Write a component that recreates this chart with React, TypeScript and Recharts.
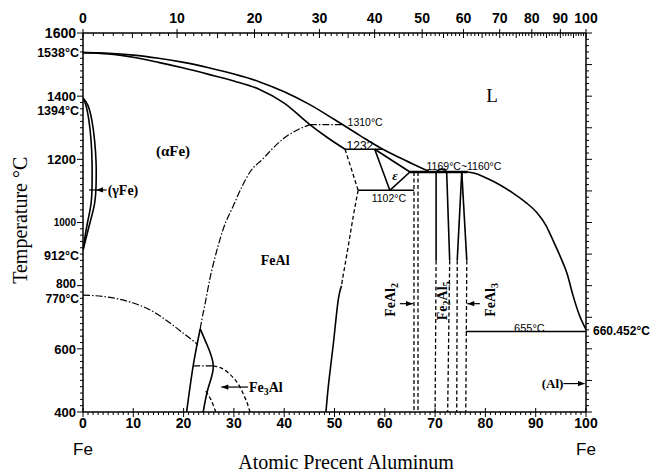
import React from 'react';
import { LineChart, Line, XAxis, YAxis, ReferenceLine, ReferenceDot } from 'recharts';

type Pt = [number, number];

// phase boundaries, [at.% Al, °C]
const liquidusFeSide: Pt[] = [[0, 1538], [5, 1536], [10, 1530], [15, 1520], [20, 1507], [25, 1490], [30, 1470], [35, 1446], [40, 1414], [45, 1374], [50, 1326], [55, 1276], [59.6, 1232], [63, 1205], [66, 1182], [68.8, 1162]];
const solidusAlpha: Pt[] = [[0, 1538], [5, 1534], [10, 1523], [15, 1507], [20, 1489], [25, 1469], [30, 1448], [35, 1422], [40, 1378], [45.1, 1310], [48.5, 1270], [52.1, 1232]];
const liquidusAlSide: Pt[] = [[76.5, 1160], [78.5, 1153], [80.3, 1140], [83, 1118], [85.5, 1093], [88, 1064], [90.3, 1030], [92, 992], [93.4, 945], [95, 888], [96.2, 840], [97.4, 770], [98.6, 710], [100, 660.452]];
const gammaOuter: Pt[] = [[0, 1394], [1.0, 1370], [1.8, 1320], [2.3, 1260], [2.6, 1190], [2.6, 1120], [2.3, 1060], [1.4, 1000], [0.6, 950], [0, 912]];
const gammaInner: Pt[] = [[0, 1394], [0.6, 1370], [1.2, 1320], [1.6, 1260], [1.8, 1190], [1.8, 1120], [1.6, 1060], [0.9, 1000], [0.35, 950], [0, 912]];
const orderA2B2: Pt[] = [[23.3, 663], [23.6, 690], [24.3, 745], [25.2, 820], [26.6, 911], [28.0, 985], [29.8, 1050], [31.5, 1110], [33.2, 1160], [35.8, 1202], [37.8, 1236], [39.8, 1265], [42.5, 1292], [45.1, 1310]];
const curieLine: Pt[] = [[0, 770], [5, 764], [10, 745], [13.5, 722], [16.6, 690], [19.5, 655], [22.8, 614]];
const line1310: Pt[] = [[45.1, 1310], [51.8, 1310]];
const peritectic1232: Pt[] = [[52.1, 1232], [59.6, 1232]];
const b2EdgeTop: Pt[] = [[52.1, 1232], [54.7, 1102]];
const b2AlEdgeDashed: Pt[] = [[54.7, 1102], [53.7, 1017], [52.7, 922], [51.7, 830], [51.4, 800]];
const b2AlEdgeSolid: Pt[] = [[51.4, 800], [50.7, 750], [49.8, 620], [48.9, 500], [48.3, 400]];
const eutectoid1102: Pt[] = [[54.7, 1102], [65.8, 1102]];
const epsLeft: Pt[] = [[58, 1232], [61, 1102]];
const epsTop: Pt[] = [[58, 1232], [65, 1160]];
const epsRight: Pt[] = [[65, 1160], [61, 1102]];
const reaction1160: Pt[] = [[65, 1160], [76.5, 1160]];
const fe2al5Dome: Pt[] = [[70.2, 1160], [70.8, 1167], [71.3, 1169], [71.9, 1166], [72.3, 1160]];
const feal2Left: Pt[] = [[65.8, 1160], [65.8, 400]];
const feal2Right: Pt[] = [[66.6, 1160], [66.6, 400]];
const fe2al5LeftSolid: Pt[] = [[70.2, 1160], [70.2, 880]];
const fe2al5LeftDashed: Pt[] = [[70.2, 880], [70.0, 400]];
const fe2al5RightSolid: Pt[] = [[72.3, 1160], [72.9, 880]];
const fe2al5RightDashed: Pt[] = [[72.9, 880], [72.5, 400]];
const feal3LeftSolid: Pt[] = [[75.3, 1160], [74.4, 880]];
const feal3LeftDashed: Pt[] = [[74.4, 880], [74.3, 400]];
const feal3RightSolid: Pt[] = [[75.3, 1160], [76.3, 880]];
const feal3RightDashed: Pt[] = [[76.3, 880], [76.1, 400]];
const eutectic655: Pt[] = [[76.1, 655], [100, 655]];
const d03Left: Pt[] = [[20.6, 400], [21.9, 546], [23.3, 663]];
const d03Right: Pt[] = [[23.3, 663], [24.6, 615], [25.9, 546], [24.9, 477], [23.9, 400]];
const line546: Pt[] = [[21.9, 546], [25.9, 546]];
const d03B2: Pt[] = [[25.9, 546], [27.2, 541], [28.6, 528], [29.9, 508], [31.0, 485], [31.9, 456], [32.6, 430], [33.2, 400]];
const d03Dome: Pt[] = [[24.4, 466], [25.4, 440], [26.4, 400]];

// axis ticks
const atTicks = Array.from({ length: 101 }, (_, i) => i);
const wtTicks = Array.from({ length: 101 }, (_, i) => i);
const tempTicks = Array.from({ length: 61 }, (_, i) => 400 + i * 20);

const M_AL = 26.98;
const M_FE = 55.845;
const wtToAt = (w: number) => {
  const a = w / M_AL;
  const f = (100 - w) / M_FE;
  return (100 * a) / (a + f);
};
const atToWt = (x: number) => (100 * x * M_AL) / (x * M_AL + (100 - x) * M_FE);

const toRows = (pts: Pt[]) => pts.map(([x, t]) => ({ x, t }));

const SOLID = { stroke: '#000', strokeWidth: 1.6 };
const DASH = { stroke: '#000', strokeWidth: 1.3, strokeDasharray: '4 2.5' };
const DASHDOT = { stroke: '#000', strokeWidth: 1.2, strokeDasharray: '7 2 1.5 2' };

const SANS = '"Liberation Sans", Arial, sans-serif';
const SERIF = '"Liberation Serif", "Times New Roman", serif';
const phaseStyle = { fontFamily: SERIF, fontWeight: 700, fontSize: 14, fill: '#000' };
const smallTemp = { fontFamily: SANS, fontSize: 10.5, fill: '#000' };
const boldTemp = { fontFamily: SANS, fontWeight: 700, fontSize: 12.5, fill: '#000' };

// top (wt.%) and right axes share the same scales as the bottom/left ones
const boundary = (key: string, pts: Pt[], style: object, curve: any = 'linear', ids: { x?: string; y?: string } = {}) => (
  <Line
    key={key}
    data={toRows(pts)}
    dataKey="t"
    type={curve}
    xAxisId={ids.x ?? 0}
    yAxisId={ids.y ?? 0}
    dot={false}
    activeDot={false}
    isAnimationActive={false}
    legendType="none"
    {...style}
  />
);

const mark = (key: string, x: number, y: number, draw: (cx: number, cy: number) => React.ReactElement) => (
  <ReferenceDot key={key} x={x} y={y} r={0} ifOverflow="visible" shape={(p: any) => draw(p.cx, p.cy)} />
);

const head = (cx: number, cy: number, dir: 1 | -1) => (
  <path d={`M${cx},${cy} L${cx - dir * 7},${cy - 2.6} L${cx - dir * 7},${cy + 2.6} Z`} fill="#000" />
);

const arrow = (key: string, x1: number, x2: number, y: number) => (
  <ReferenceLine key={key} segment={[{ x: x1, y }, { x: x2, y }]} stroke="#000" strokeWidth={1.2} ifOverflow="visible" />
);

const BottomTick = ({ x, y, payload }: any) => {
  const v = payload.value;
  const major = v % 10 === 0;
  return (
    <g>
      <line x1={x} x2={x} y1={major ? y - 4 : y} y2={y + (major ? 5 : 3)} stroke="#000" strokeWidth={1} />
      {major && (
        <text x={x} y={y + 16} textAnchor="middle" style={{ fontFamily: SANS, fontWeight: 700, fontSize: 14 }}>
          {v}
        </text>
      )}
      {(v === 0 || v === 100) && (
        <text x={x} y={y + 43} textAnchor="middle" style={{ fontFamily: SANS, fontSize: 17 }}>
          Fe
        </text>
      )}
    </g>
  );
};

const TopTick = ({ x, y, payload }: any) => {
  const w = Math.round(atToWt(payload.value));
  const major = w % 10 === 0;
  const mid = w % 5 === 0;
  return (
    <g>
      <line x1={x} x2={x} y1={major ? y - 4 : y} y2={y + (major || mid ? 5 : 3)} stroke="#000" strokeWidth={1} />
      {major && (
        <text x={x} y={y - 10.5} textAnchor="middle" style={{ fontFamily: SANS, fontWeight: 700, fontSize: 14 }}>
          {w}
        </text>
      )}
    </g>
  );
};

const LeftTick = ({ x, y, payload }: any) => {
  const v = payload.value;
  const major = v % 200 === 0;
  const size = v === 1600 ? 14 : v === 1000 ? 10 : v === 800 ? 12 : 13;
  return (
    <g>
      <line x1={x - (major ? 6 : 3)} x2={x} y1={y} y2={y} stroke="#000" strokeWidth={1} />
      {major && (
        <text x={x - 7} y={v === 800 ? y - 2 : y} dy="0.36em" textAnchor="end" style={{ fontFamily: SANS, fontWeight: 700, fontSize: size }}>
          {v}
        </text>
      )}
    </g>
  );
};

const RightTick = ({ x, y, payload }: any) => {
  const v = payload.value;
  return <line x1={x} x2={x + (v % 100 === 0 ? 6 : 3)} y1={y} y2={y} stroke="#000" strokeWidth={1} />;
};

const axisLine = { stroke: '#000', strokeWidth: 1.5 };

export default function App() {
  return (
    <div style={{ position: 'absolute', left: 0, top: 0, width: 658, height: 472, background: '#fff' }}>
      <LineChart width={658} height={472} margin={{ top: 13, right: 62, bottom: 30, left: 33 }}>
        <XAxis
          dataKey="x"
          type="number"
          domain={[0, 100]}
          allowDataOverflow
          ticks={atTicks}
          interval={0}
          tick={(p: any) => <BottomTick {...p} />}
          tickLine={false}
          tickSize={0}
          tickMargin={0}
          axisLine={axisLine}
          height={30}
        />
        <XAxis
          xAxisId="top"
          dataKey="x"
          orientation="top"
          type="number"
          domain={[0, 100]}
          allowDataOverflow
          ticks={wtTicks.map(wtToAt)}
          interval={0}
          tick={(p: any) => <TopTick {...p} />}
          tickLine={false}
          tickSize={0}
          tickMargin={0}
          axisLine={axisLine}
          height={20}
        />
        <YAxis
          type="number"
          domain={[400, 1600]}
          allowDataOverflow
          ticks={tempTicks}
          interval={0}
          tick={(p: any) => <LeftTick {...p} />}
          tickLine={false}
          tickSize={0}
          tickMargin={0}
          axisLine={axisLine}
          width={50}
        />
        <YAxis
          yAxisId="r"
          orientation="right"
          type="number"
          domain={[400, 1600]}
          allowDataOverflow
          ticks={tempTicks}
          interval={0}
          tick={(p: any) => <RightTick {...p} />}
          tickLine={false}
          tickSize={0}
          tickMargin={0}
          axisLine={axisLine}
          width={10}
        />

        {boundary('liqFe', liquidusFeSide, SOLID, 'monotone', { x: 'top', y: 'r' })}
        {boundary('sol', solidusAlpha, SOLID, 'monotone')}
        {boundary('liqAl', liquidusAlSide, SOLID, 'monotone', { x: 'top', y: 'r' })}
        {boundary('gOut', gammaOuter, SOLID, 'natural')}
        {boundary('gIn', gammaInner, SOLID, 'natural')}
        {boundary('a2b2', orderA2B2, DASHDOT, 'monotone')}
        {boundary('curie', curieLine, DASHDOT, 'monotone')}
        {boundary('l1310', line1310, DASHDOT)}
        {boundary('p1232', peritectic1232, SOLID)}
        {boundary('b2top', b2EdgeTop, DASH)}
        {boundary('b2d', b2AlEdgeDashed, DASH, 'natural')}
        {boundary('b2s', b2AlEdgeSolid, SOLID, 'natural')}
        {boundary('e1102', eutectoid1102, SOLID)}
        {boundary('epsL', epsLeft, SOLID)}
        {boundary('epsT', epsTop, SOLID)}
        {boundary('epsR', epsRight, SOLID)}
        {boundary('r1160', reaction1160, { stroke: '#000', strokeWidth: 2.6 })}
        {boundary('dome', fe2al5Dome, SOLID, 'natural')}
        {boundary('f2L', feal2Left, DASH)}
        {boundary('f2R', feal2Right, DASH)}
        {boundary('f25Ls', fe2al5LeftSolid, SOLID)}
        {boundary('f25Ld', fe2al5LeftDashed, DASH)}
        {boundary('f25Rs', fe2al5RightSolid, SOLID)}
        {boundary('f25Rd', fe2al5RightDashed, DASH)}
        {boundary('f3Ls', feal3LeftSolid, SOLID)}
        {boundary('f3Ld', feal3LeftDashed, DASH)}
        {boundary('f3Rs', feal3RightSolid, SOLID)}
        {boundary('f3Rd', feal3RightDashed, DASH)}
        {boundary('e655', eutectic655, SOLID)}
        {boundary('d03L', d03Left, SOLID, 'natural')}
        {boundary('d03R', d03Right, SOLID, 'natural')}
        {boundary('l546', line546, DASHDOT)}
        {boundary('d03b2', d03B2, DASH, 'natural')}
        {boundary('d03dome', d03Dome, DASH, 'natural')}

        {arrow('aG', 1.2, 4.7, 1103)}
        {arrow('aF3', 27.5, 32.8, 479)}
        {arrow('aF2', 63.0, 65.6, 743)}
        {arrow('aF3b', 76.4, 78.9, 743)}
        {arrow('aAl', 95.5, 99.7, 490)}
        {mark('hG', 2.6, 1103, (cx, cy) => head(cx, cy, -1))}
        {mark('hF3', 27.5, 479, (cx, cy) => head(cx, cy, -1))}
        {mark('hF2', 65.6, 743, (cx, cy) => head(cx, cy, 1))}
        {mark('hF3b', 76.4, 743, (cx, cy) => head(cx, cy, -1))}
        {mark('hAl', 99.8, 490, (cx, cy) => head(cx, cy, 1))}

        {mark('t1538', 0, 1538, (cx, cy) => <text x={cx - 4} y={cy} dy="0.36em" textAnchor="end" style={boldTemp}>1538°C</text>)}
        {mark('t1394', 0, 1356, (cx, cy) => <text x={cx - 4} y={cy} dy="0.36em" textAnchor="end" style={boldTemp}>1394°C</text>)}
        {mark('t912', 0, 897, (cx, cy) => <text x={cx - 4} y={cy} dy="0.36em" textAnchor="end" style={boldTemp}>912°C</text>)}
        {mark('t770', 0, 758, (cx, cy) => <text x={cx - 4} y={cy} dy="0.36em" textAnchor="end" style={{ ...boldTemp, fontSize: 12 }}>770°C</text>)}
        {mark('t660', 100, 659, (cx, cy) => <text x={cx + 7} y={cy} dy="0.36em" style={{ ...boldTemp, fontSize: 12 }}>660.452°C</text>)}
        {mark('t1310', 52.6, 1316, (cx, cy) => <text x={cx} y={cy} dy="0.36em" style={smallTemp}>1310°C</text>)}
        {mark('t1232', 52.4, 1242, (cx, cy) => <text x={cx} y={cy} dy="0.36em" style={{ ...smallTemp, fontSize: 12 }}>1232</text>)}
        {mark('t1102', 57.4, 1076, (cx, cy) => <text x={cx} y={cy} dy="0.36em" style={smallTemp}>1102°C</text>)}
        {mark('t1169', 68.3, 1177, (cx, cy) => <text x={cx} y={cy} dy="0.36em" style={smallTemp}>1169°C~1160°C</text>)}
        {mark('t655', 85.7, 665, (cx, cy) => <text x={cx} y={cy} dy="0.36em" style={{ ...smallTemp, fontSize: 11 }}>655°C</text>)}

        {mark('pAlpha', 17.9, 1229, (cx, cy) => <text x={cx} y={cy} dy="0.36em" textAnchor="middle" style={{ ...phaseStyle, fontSize: 15 }}>(αFe)</text>)}
        {mark('pGamma', 4.9, 1103, (cx, cy) => <text x={cx} y={cy} dy="0.36em" style={phaseStyle}>(γFe)</text>)}
        {mark('pFeAl', 38.2, 881, (cx, cy) => <text x={cx} y={cy} dy="0.36em" textAnchor="middle" style={phaseStyle}>FeAl</text>)}
        {mark('pL', 81.3, 1404, (cx, cy) => <text x={cx} y={cy} dy="0.36em" textAnchor="middle" style={{ fontFamily: SERIF, fontSize: 19 }}>L</text>)}
        {mark('pEps', 62.0, 1150, (cx, cy) => <text x={cx} y={cy} dy="0.36em" textAnchor="middle" style={{ fontFamily: SERIF, fontStyle: 'italic', fontWeight: 700, fontSize: 13 }}>ε</text>)}
        {mark('pFe3Al', 33.0, 479, (cx, cy) => (
          <text x={cx} y={cy} dy="0.36em" style={phaseStyle}>
            Fe<tspan dy={3} fontSize={10}>3</tspan><tspan dy={-3}>Al</tspan>
          </text>
        ))}
        {mark('pAl', 91.2, 490, (cx, cy) => <text x={cx} y={cy} dy="0.36em" style={{ ...phaseStyle, fontSize: 13 }}>(Al)</text>)}
        {mark('pFeAl2', 61.0, 755, (cx, cy) => (
          <text x={cx} y={cy} dy="0.36em" textAnchor="middle" transform={`rotate(-90 ${cx} ${cy})`} style={phaseStyle}>
            FeAl<tspan dy={3} fontSize={10}>2</tspan>
          </text>
        ))}
        {mark('pFe2Al5', 71.3, 752, (cx, cy) => (
          <text x={cx} y={cy} dy="0.36em" textAnchor="middle" transform={`rotate(-90 ${cx} ${cy})`} style={phaseStyle}>
            Fe<tspan dy={3} fontSize={10}>2</tspan><tspan dy={-3}>Al</tspan><tspan dy={3} fontSize={10}>5</tspan>
          </text>
        ))}
        {mark('pFeAl3', 80.9, 755, (cx, cy) => (
          <text x={cx} y={cy} dy="0.36em" textAnchor="middle" transform={`rotate(-90 ${cx} ${cy})`} style={phaseStyle}>
            FeAl<tspan dy={3} fontSize={10}>3</tspan>
          </text>
        ))}

        {mark('xTitle', 52.3, 400, (cx, cy) => (
          <text x={cx} y={cy + 57} textAnchor="middle" style={{ fontFamily: SERIF, fontSize: 20 }}>Atomic Precent Aluminum</text>
        ))}
        {mark('yTitle', 0, 1007, (cx, cy) => (
          <text x={cx - 56} y={cy} textAnchor="middle" transform={`rotate(-90 ${cx - 56} ${cy})`} style={{ fontFamily: SERIF, fontSize: 20 }}>
            Temperature °C
          </text>
        ))}
      </LineChart>
    </div>
  );
}
